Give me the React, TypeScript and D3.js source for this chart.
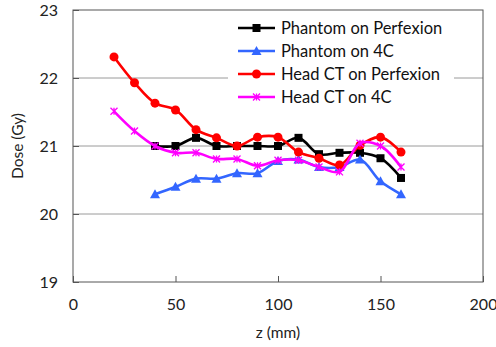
import * as d3 from 'd3'
import { useEffect, useRef } from 'react'

const zFull = [20, 30, 40, 50, 60, 70, 80, 90, 100, 110, 120, 130, 140, 150, 160]
const zPhantom = [40, 50, 60, 70, 80, 90, 100, 110, 120, 130, 140, 150, 160]

const phantomPerfexion = [21.0, 21.0, 21.12, 21.0, 21.0, 21.0, 21.0, 21.12, 20.88, 20.9, 20.9, 20.82, 20.53]
const phantom4C = [20.29, 20.4, 20.52, 20.52, 20.6, 20.6, 20.78, 20.8, 20.69, 20.69, 20.8, 20.48, 20.29]
const headPerfexion = [22.31, 21.93, 21.63, 21.53, 21.24, 21.12, 21.0, 21.13, 21.13, 20.91, 20.82, 20.72, 21.01, 21.13, 20.91]
const head4C = [21.51, 21.22, 21.0, 20.9, 20.9, 20.81, 20.81, 20.71, 20.79, 20.79, 20.69, 20.62, 21.04, 21.0, 20.69]

const xTicks = [0, 50, 100, 150, 200]
const yTicks = [19, 20, 21, 22, 23]

type Series = { name: string; z: number[]; v: number[]; color: string; marker: string }

const series: Series[] = [
  { name: 'Phantom on Perfexion', z: zPhantom, v: phantomPerfexion, color: '#000000', marker: 'square' },
  { name: 'Phantom on 4C', z: zPhantom, v: phantom4C, color: '#3366ff', marker: 'triangle' },
  { name: 'Head CT on Perfexion', z: zFull, v: headPerfexion, color: '#ff0000', marker: 'circle' },
  { name: 'Head CT on 4C', z: zFull, v: head4C, color: '#ff00ff', marker: 'star' },
]

const font = 'Lato, "Open Sans", sans-serif'

function drawMarker(g: any, kind: string, cx: number, cy: number, color: string) {
  if (kind === 'square') {
    g.append('rect').attr('x', cx - 4).attr('y', cy - 4).attr('width', 8).attr('height', 8).attr('fill', color)
  } else if (kind === 'circle') {
    g.append('circle').attr('cx', cx).attr('cy', cy).attr('r', 4.5).attr('fill', color)
  } else if (kind === 'triangle') {
    g.append('path')
      .attr('d', `M${cx},${cy - 5}L${cx + 5},${cy + 4}L${cx - 5},${cy + 4}Z`)
      .attr('fill', color)
  } else {
    const s = 3.5
    g.append('path')
      .attr('d', `M${cx - s},${cy - s}L${cx + s},${cy + s}M${cx - s},${cy + s}L${cx + s},${cy - s}M${cx},${cy - s}L${cx},${cy + s}`)
      .attr('stroke', color)
      .attr('stroke-width', 1.3)
      .attr('fill', 'none')
  }
}

const App = () => {
  const ref = useRef<SVGSVGElement>(null)
  const width = 496
  const height = 347
  const left = 73
  const right = 483
  const top = 10
  const bottom = 282

  useEffect(() => {
    const svg = d3.select(ref.current)
    svg.selectAll('*').remove()
    const x = d3.scaleLinear([0, 200], [left, right])
    const y = d3.scaleLinear([19, 23], [bottom, top])

    svg.append('rect').attr('width', width).attr('height', height).attr('fill', '#fff')

    // gridlines
    svg.append('g')
      .selectAll('line')
      .data(yTicks.slice(1, -1))
      .join('line')
      .attr('x1', left).attr('x2', right)
      .attr('y1', d => y(d)).attr('y2', d => y(d))
      .attr('stroke', '#9a9a9a').attr('stroke-width', 1)

    // frame
    svg.append('rect')
      .attr('x', left).attr('y', top)
      .attr('width', right - left).attr('height', bottom - top)
      .attr('fill', 'none').attr('stroke', '#555').attr('stroke-width', 1)

    // y axis
    const ya = svg.append('g').attr('transform', `translate(${left},0)`)
      .call(d3.axisLeft(y).tickValues(yTicks).tickSize(-6).tickPadding(15).tickFormat(d3.format('d')))
    ya.select('.domain').remove()
    ya.selectAll('.tick line').attr('stroke', '#555')
    ya.selectAll('.tick text').attr('font-family', font).attr('font-size', 16).attr('fill', '#222')

    // x axis
    const xa = svg.append('g').attr('transform', `translate(0,${bottom})`)
      .call(d3.axisBottom(x).tickValues(xTicks).tickSize(-6).tickPadding(17).tickFormat(d3.format('d')))
    xa.select('.domain').remove()
    xa.selectAll('.tick line').attr('stroke', '#555')
    xa.selectAll('.tick text').attr('font-family', font).attr('font-size', 16).attr('fill', '#222')

    svg.append('text')
      .attr('transform', `translate(23,${(top + bottom) / 2}) rotate(-90)`)
      .attr('text-anchor', 'middle')
      .attr('font-family', font).attr('font-size', 15.5).attr('fill', '#222')
      .text('Dose (Gy)')

    svg.append('text')
      .attr('x', (left + right) / 2).attr('y', 338)
      .attr('text-anchor', 'middle')
      .attr('font-family', font).attr('font-size', 15.5).attr('fill', '#222')
      .text('z (mm)')

    // legend background
    svg.append('rect').attr('x', 228).attr('y', 14).attr('width', 226).attr('height', 94).attr('fill', '#fff')

    const line = d3.line<[number, number]>()
      .x(d => x(d[0]))
      .y(d => y(d[1]))
      .curve(d3.curveCatmullRom.alpha(0.5))

    series.forEach(s => {
      const pts: [number, number][] = s.z.map((z, i) => [z, s.v[i]])
      const g = svg.append('g')
      g.append('path')
        .attr('d', line(pts))
        .attr('fill', 'none')
        .attr('stroke', s.color)
        .attr('stroke-width', 2.6)
      pts.forEach(p => drawMarker(g, s.marker, x(p[0]), y(p[1]), s.color))
    })

    // legend
    series.forEach((s, i) => {
      const ly = 28 + i * 23
      const g = svg.append('g')
      g.append('line').attr('x1', 238).attr('x2', 275).attr('y1', ly).attr('y2', ly)
        .attr('stroke', s.color).attr('stroke-width', 2.6)
      drawMarker(g, s.marker, 256.5, ly, s.color)
      g.append('text').attr('x', 281).attr('y', ly).attr('dy', '0.35em')
        .attr('font-family', font).attr('font-size', 16.5).attr('fill', '#111')
        .text(s.name)
    })
  }, [])

  return <svg ref={ref} width={width} height={height} style={{ position: 'absolute', left: 0, top: 0 }} />
}

export default App
